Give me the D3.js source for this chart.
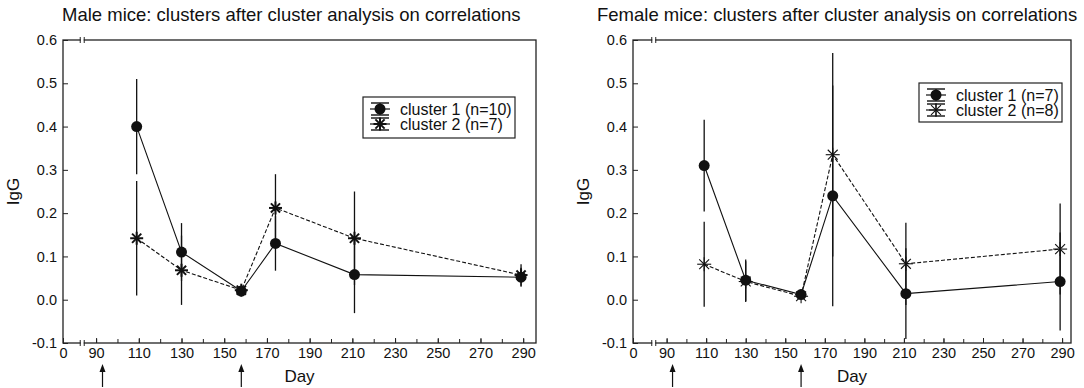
<!DOCTYPE html>
<html>
<head>
<meta charset="utf-8">
<script src="https://cdn.jsdelivr.net/npm/d3@7"></script>
<style>
  body { margin: 0; background: #fff; }
  svg { display: block; font-family: "Liberation Sans", Arial, sans-serif; }
</style>
</head>
<body>
<script>
// sampling days (same for both panels)
const days = [109, 130, 158, 174, 211, 289];

// male mice
const maleC1 = [0.40, 0.11, 0.02, 0.13, 0.058, 0.052];
const maleC1Err = [0.11, 0.067, 0.01, 0.063, 0.089, 0.022];
const maleC2 = [0.142, 0.068, 0.022, 0.212, 0.142, 0.057];
const maleC2Err = [0.132, 0.08, 0.01, 0.078, 0.108, 0.025];

// female mice
const femaleC1 = [0.31, 0.045, 0.012, 0.24, 0.014, 0.042];
const femaleC1Err = [0.106, 0.048, 0.008, 0.255, 0.105, 0.113];
const femaleC2 = [0.082, 0.042, 0.008, 0.335, 0.083, 0.117];
const femaleC2Err = [0.098, 0.047, 0.006, 0.235, 0.095, 0.105];

// axes
const xLabelDays = [90, 110, 130, 150, 170, 190, 210, 230, 250, 270, 290];
const xMinorDays = d3.range(90, 291, 10);
const yTicks = [-0.1, 0, 0.1, 0.2, 0.3, 0.4, 0.5, 0.6];
const arrowDays = [93, 158];
const breakDay = 83.5;

const width = 1084, height = 388;
const svg = d3.select("body").append("svg")
	.attr("width", width)
	.attr("height", height);

const fmtY = d => d3.format(".1f")(d).replace("−", "-");

function star(g, cx, cy, r, sw){
	const s = g.append("g").attr("stroke", "#111").attr("stroke-width", sw);
	for (let a = 0; a < 4; a++){
		const t = a * Math.PI / 4;
		s.append("line")
			.attr("x1", cx - r*Math.cos(t)).attr("y1", cy - r*Math.sin(t))
			.attr("x2", cx + r*Math.cos(t)).attr("y2", cy + r*Math.sin(t));
	}
}

function drawPanel(p){
	const x = d3.scaleLinear().domain(p.xDomain).range([p.left, p.right]);
	const y = d3.scaleLinear().domain([-0.1, 0.6]).range([p.bottom, p.top]);
	const g = svg.append("g");
	const xStart = p.xDomain[0]; // shown as "0" behind the axis break

	//title
	g.append("text")
		.attr("x", p.titleX).attr("y", 21)
		.style("font-size", "18.5px").attr("fill", "#111")
		.text(p.title);

	//x axis, labels every 20 days
	const labelVals = [xStart].concat(xLabelDays);
	g.append("g")
		.attr("transform", "translate(0," + p.bottom + ")")
		.call(d3.axisBottom(x).tickValues(labelVals).tickSize(-5).tickPadding(5)
			.tickFormat(d => d === xStart ? "0" : d))
		.call(a => a.select(".domain").remove())
		.call(a => a.selectAll("text").style("font-size", "14.5px").attr("fill", "#111"))
		.call(a => a.selectAll("line").attr("stroke", "#222"));
	//minor x ticks
	g.append("g")
		.attr("transform", "translate(0," + p.bottom + ")")
		.call(d3.axisBottom(x).tickValues(xMinorDays).tickSize(-4).tickFormat(""))
		.call(a => a.select(".domain").remove())
		.call(a => a.selectAll("line").attr("stroke", "#222"));

	//y axis
	g.append("g")
		.attr("transform", "translate(" + p.left + ",0)")
		.call(d3.axisLeft(y).tickValues(yTicks).tickSize(-5).tickPadding(6)
			.tickFormat(fmtY))
		.call(a => a.select(".domain").remove())
		.call(a => a.selectAll("text").style("font-size", "14.5px").attr("fill", "#111"))
		.call(a => a.selectAll("line").attr("stroke", "#222"));

	//frame
	g.append("rect")
		.attr("x", p.left).attr("y", p.top)
		.attr("width", p.right - p.left).attr("height", p.bottom - p.top)
		.attr("fill", "none").attr("stroke", "#222").attr("stroke-width", 1.3);

	//axis break marks on top and bottom
	[p.top, p.bottom].forEach(yy => {
		const bx = x(breakDay);
		g.append("rect").attr("x", bx - 1.5).attr("y", yy - 2).attr("width", 3).attr("height", 4).attr("fill", "#fff");
		[bx - 2, bx + 2].forEach(mx => {
			g.append("line").attr("x1", mx).attr("x2", mx).attr("y1", yy - 3).attr("y2", yy + 3)
				.attr("stroke", "#222").attr("stroke-width", 1);
		});
	});

	//axis titles
	g.append("text")
		.attr("x", (p.left + p.right) / 2).attr("y", 382)
		.attr("text-anchor", "middle").style("font-size", "17px").attr("fill", "#111")
		.text("Day");
	g.append("text")
		.attr("transform", "translate(" + (p.left - 44) + "," + ((p.top + p.bottom) / 2) + ") rotate(-90)")
		.attr("text-anchor", "middle").style("font-size", "17px").attr("fill", "#111")
		.text("IgG");

	//arrows under the axis
	arrowDays.forEach(d => {
		const ax = x(d);
		g.append("line").attr("x1", ax).attr("x2", ax).attr("y1", 387).attr("y2", 370)
			.attr("stroke", "#111").attr("stroke-width", 1.2);
		g.append("path").attr("d", `M${ax},364 L${ax-3},372 L${ax+3},372 Z`).attr("fill", "#111");
	});

	const series = [
		{vals: p.c1, err: p.c1Err, dash: null},
		{vals: p.c2, err: p.c2Err, dash: "4,2"}
	];

	//error bars
	series.forEach(s => {
		g.selectAll(null).data(days).enter().append("line")
			.attr("x1", d => x(d)).attr("x2", d => x(d))
			.attr("y1", (d, i) => y(s.vals[i] - s.err[i]))
			.attr("y2", (d, i) => y(s.vals[i] + s.err[i]))
			.attr("stroke", "#111").attr("stroke-width", 1.3);
	});

	//lines
	series.slice().reverse().forEach(s => {
		const line = d3.line().x(d => x(d)).y((d, i) => y(s.vals[i]));
		g.append("path").datum(days).attr("d", line)
			.attr("fill", "none").attr("stroke", "#111").attr("stroke-width", 1.1)
			.attr("stroke-dasharray", s.dash);
	});

	//markers
	days.forEach((d, i) => {
		star(g, x(d), y(p.c2[i]), p.starR, p.starW);
	});
	g.selectAll(null).data(days).enter().append("circle")
		.attr("cx", d => x(d)).attr("cy", (d, i) => y(p.c1[i]))
		.attr("r", 5.5).attr("fill", "#111");

	//legend
	const L = p.legend;
	g.append("rect").attr("x", L.x).attr("y", L.y).attr("width", L.w).attr("height", L.h)
		.attr("fill", "#fff").attr("stroke", "#222").attr("stroke-width", 1.2);
	p.labels.forEach((lab, i) => {
		const cy = L.y + 12 + i * 15;
		const sx = L.x + 17;
		g.append("line").attr("x1", sx - 10).attr("x2", sx + 10).attr("y1", cy).attr("y2", cy)
			.attr("stroke", "#111").attr("stroke-width", 1.2);
		[cy - 6, cy + 6].forEach(cc => g.append("line").attr("x1", sx - 9).attr("x2", sx + 9)
			.attr("y1", cc).attr("y2", cc).attr("stroke", "#111").attr("stroke-width", 1.4));
		g.append("line").attr("x1", sx).attr("x2", sx).attr("y1", cy - 6).attr("y2", cy + 6)
			.attr("stroke", "#111").attr("stroke-width", 1.2);
		if (i === 0) g.append("circle").attr("cx", sx).attr("cy", cy).attr("r", 5.5).attr("fill", "#111");
		else star(g, sx, cy, p.starR, p.starW);
		g.append("text").attr("x", L.x + 37).attr("y", cy + 5.5)
			.style("font-size", "16px").attr("fill", "#111").text(lab);
	});
}

drawPanel({
	title: "Male mice: clusters after cluster analysis on correlations",
	titleX: 62,
	xDomain: [74.5, 296], left: 63, right: 536, top: 40, bottom: 343,
	c1: maleC1, c1Err: maleC1Err, c2: maleC2, c2Err: maleC2Err,
	starR: 6.5, starW: 2,
	legend: {x: 363, y: 97, w: 152, h: 41},
	labels: ["cluster 1 (n=10)", "cluster 2 (n=7)"]
});

drawPanel({
	title: "Female mice: clusters after cluster analysis on correlations",
	titleX: 597,
	xDomain: [73, 294.5], left: 633, right: 1071, top: 40, bottom: 343,
	c1: femaleC1, c1Err: femaleC1Err, c2: femaleC2, c2Err: femaleC2Err,
	starR: 7, starW: 1.1,
	legend: {x: 919, y: 83, w: 143, h: 39},
	labels: ["cluster 1 (n=7)", "cluster 2 (n=8)"]
});
</script>
</body>
</html>
